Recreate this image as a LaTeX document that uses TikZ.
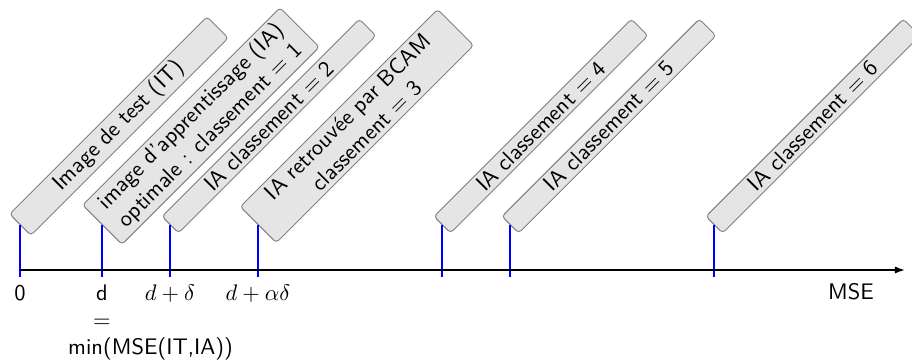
\documentclass[tikz,border=0pt]{standalone}
\usetikzlibrary{arrows.meta}
\begin{document}
\begin{tikzpicture}[x=0.4444pt,y=0.4444pt,
  lbl/.style={draw=gray, fill=gray!20, rounded corners=1.5pt, rotate=45, anchor=west,
    minimum width=124pt, inner sep=1.65pt, font=\sffamily, align=center},
  tickline/.style={blue, line width=0.45pt},
  axisline/.style={line width=0.7pt, -{Latex[length=4.5pt,width=3.2pt]}},
  axislabel/.style={below, inner sep=3.33pt, font=\sffamily}]
\useasboundingbox (0,0) rectangle (912,360);
\clip (0,0) rectangle (912,360);
% tick bottoms
\coordinate (t0) at (20,83);
\coordinate (t1) at (102,83);
\coordinate (t2) at (170,83);
\coordinate (t3) at (258,83);
\coordinate (t4) at (442,83);
\coordinate (t5) at (510,83);
\coordinate (t6) at (714,83);
% axis ends
\coordinate (ax0) at (20,90);
\coordinate (ax1) at (905,90);
% boxes
\node[lbl] (b0) at (20,135) {Image de test (IT)};
\node[lbl] (b1) at (102,135) {image d'apprentissage (IA)\\optimale : classement = 1};
\node[lbl] (b2) at (170,135) {IA classement = 2};
\node[lbl] (b3) at (258,135) {IA retrouvée par BCAM\\classement = 3};
\node[lbl] (b4) at (442,135) {IA classement = 4};
\node[lbl] (b5) at (510,135) {IA classement = 5};
\node[lbl] (b6) at (714,135) {IA classement = 6};
% ticks
\foreach \i in {0,...,6} \draw[tickline] (b\i.west) -- (t\i);
% axis
\draw[axisline] (ax0) -- (ax1);
% labels
\node[axislabel] (l0) at (t0) {0};
\node[axislabel, text width=30pt, align=center] (l1) at (t1) {d\\=\\min(MSE(IT,IA))};
\node[axislabel] (l2) at (t2) {$d+\delta$};
\node[axislabel] (l3) at (t3) {$d+\alpha\delta$};
\node[font=\sffamily] (mse) at (851,68) {MSE};
\end{tikzpicture}
\end{document}
